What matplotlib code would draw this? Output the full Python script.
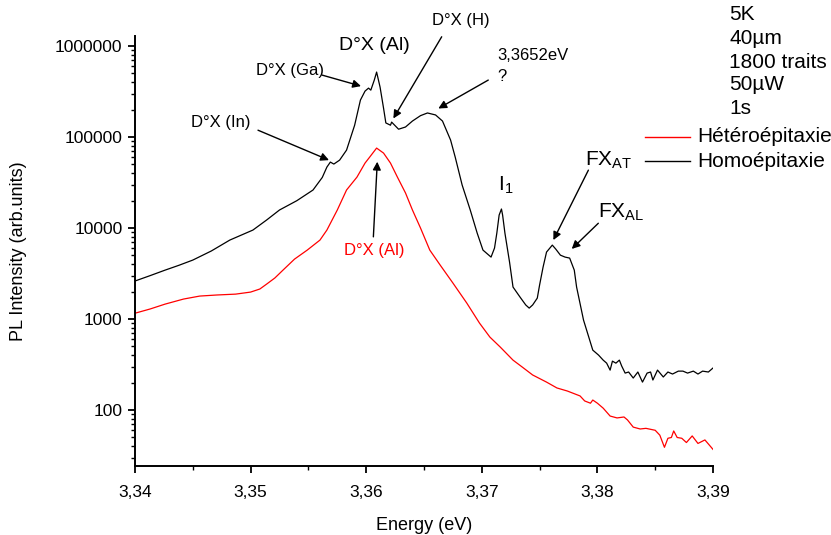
import numpy as np
import matplotlib
matplotlib.use("Agg")
import matplotlib.pyplot as plt
from matplotlib.ticker import FixedLocator, LogLocator, NullFormatter

plt.rcParams['font.family'] = ['Liberation Sans', 'DejaVu Sans']

# Homoépitaxie (black) : energy (eV), intensity (arb. units)
homo_E = [3.3400, 3.3413, 3.3426, 3.3438, 3.3450, 3.3466, 3.3482, 3.3502, 3.3514, 3.3525,
          3.3540, 3.3554, 3.3562, 3.3566, 3.3569, 3.3572,
          3.3577, 3.3583, 3.3590, 3.3595, 3.3599, 3.3602, 3.3604, 3.3607, 3.3609, 3.3612,
          3.3615, 3.3617, 3.3621, 3.3622, 3.3628, 3.3634, 3.3640, 3.3647, 3.3653, 3.3660,
          3.3666, 3.3673, 3.3677, 3.3683, 3.3690, 3.3696, 3.3701, 3.3708, 3.3711, 3.3713,
          3.3715, 3.3717, 3.3718, 3.3720, 3.3724, 3.3727, 3.3733, 3.3738, 3.3741, 3.3744,
          3.3748, 3.3750, 3.3753, 3.3756, 3.3761, 3.3764, 3.3768, 3.3772, 3.3776, 3.3780,
          3.3782, 3.3788, 3.3792, 3.3796, 3.3801, 3.3805, 3.3808, 3.3811, 3.3813, 3.3816,
          3.3819, 3.3821, 3.3824, 3.3827, 3.3831, 3.3835, 3.3839, 3.3843, 3.3846, 3.3848,
          3.3852, 3.3857, 3.3861, 3.3865, 3.3870, 3.3874, 3.3878, 3.3883, 3.3887, 3.3891,
          3.3896, 3.3900]
homo_I = [2620, 3000, 3450, 3900, 4450, 5600, 7380, 9510, 12300, 15800,
          20000, 26200, 36000, 46800, 53100, 50500,
          55800, 71900, 135000, 255000, 320000, 345000, 328000, 423000, 518000, 354000,
          208000, 143000, 135000, 146000, 122000, 129000, 150000, 172000, 184000, 175000,
          150000, 92700, 60200, 29700, 15800, 8810, 5730, 4800, 6030, 8810,
          13900, 16200, 13900, 8810, 4230, 2250, 1750, 1430, 1320, 1430,
          1700, 2370, 3720, 5450, 6500, 5870, 5040, 4800, 4680, 3450,
          2250, 975, 667, 456, 402, 354, 328, 275, 345, 328,
          354, 305, 255, 262, 225, 262, 203, 255, 262, 214,
          275, 231, 262, 249, 268, 268, 255, 268, 249, 268,
          262, 290]

# Hétéroépitaxie (red)
hetero_E = [3.3400, 3.3413, 3.3426, 3.3442, 3.3456, 3.3471, 3.3487, 3.3500, 3.3508, 3.3514,
            3.3521, 3.3528, 3.3538, 3.3549, 3.3560, 3.3566, 3.3575, 3.3583, 3.3592, 3.3599,
            3.3603, 3.3609, 3.3615, 3.3621, 3.3627, 3.3634, 3.3640, 3.3647, 3.3655, 3.3664,
            3.3675, 3.3687, 3.3698, 3.3707, 3.3716, 3.3727, 3.3735, 3.3744, 3.3756, 3.3765,
            3.3774, 3.3785, 3.3789, 3.3794, 3.3796, 3.3800, 3.3805, 3.3811, 3.3817, 3.3823,
            3.3826, 3.3831, 3.3837, 3.3842, 3.3850, 3.3854, 3.3858, 3.3861, 3.3864, 3.3866,
            3.3869, 3.3873, 3.3877, 3.3882, 3.3887, 3.3893, 3.3897, 3.3900]
hetero_I = [1160, 1290, 1460, 1660, 1790, 1840, 1880, 1980, 2140, 2430,
            2830, 3450, 4560, 5730, 7380, 9510, 15800, 26200, 36300, 51800,
            60200, 75700, 66700, 51800, 36300, 24300, 15800, 10000, 5730, 3920,
            2490, 1500, 904, 634, 492, 354, 297, 243, 203, 175,
            162, 143, 126, 119, 129, 119, 105, 86, 82, 84,
            78, 65, 62, 63, 60, 53, 39, 49, 50, 59,
            50, 49, 44, 52, 43, 47, 41, 37]

x_ticks = [3.34, 3.35, 3.36, 3.37, 3.38, 3.39]
x_tick_labels = ["3,34", "3,35", "3,36", "3,37", "3,38", "3,39"]
y_ticks = [100, 1000, 10000, 100000, 1000000]
y_tick_labels = ["100", "1000", "10000", "100000", "1000000"]

W, H = 831, 535
fig = plt.figure(figsize=(W / 100, H / 100), dpi=100)
L, R, T, B = 135, 713, 36, 466
ax = fig.add_axes([L / W, 1 - B / H, (R - L) / W, (B - T) / H])

ax.plot(hetero_E, hetero_I, color='#ff0000', lw=0.9)
ax.plot(homo_E, homo_I, color='black', lw=0.9)

ax.set_yscale('log')
ax.set_xlim(3.34, 3.39)
ax.set_ylim(24.3, 1.29e6)

ax.spines['top'].set_visible(False)
ax.spines['right'].set_visible(False)
for s in ('left', 'bottom'):
    ax.spines[s].set_linewidth(1.4)

ax.set_xticks(x_ticks)
ax.set_xticklabels(x_tick_labels)
ax.xaxis.set_minor_locator(FixedLocator([3.345, 3.355, 3.365, 3.375, 3.385]))
ax.set_yticks(y_ticks)
ax.set_yticklabels(y_tick_labels)
ax.yaxis.set_minor_locator(LogLocator(base=10, subs=np.arange(2, 10)))
ax.yaxis.set_minor_formatter(NullFormatter())
ax.tick_params(which='major', direction='out', length=5, width=1.3, labelsize=12.5)
ax.tick_params(axis='x', which='major', pad=9)
ax.tick_params(axis='y', which='major', pad=4)
ax.tick_params(which='minor', direction='out', length=3, width=1.0)

ax.set_xlabel("Energy (eV)", fontsize=13, labelpad=12)
ax.set_ylabel("PL Intensity (arb.units)", fontsize=13, labelpad=20)

arrow = dict(arrowstyle='-|>', color='black', lw=1.0, mutation_scale=12, shrinkA=0, shrinkB=0)

# Annotations
ax.text(3.34740, 144000, "D°X (In)", fontsize=12, ha='center', va='center')
ax.annotate('', xy=(3.35678, 55800), xytext=(3.35064, 119000), arrowprops=arrow, annotation_clip=False)

ax.text(3.35341, 545000, "D°X (Ga)", fontsize=12, ha='center', va='center')
ax.annotate('', xy=(3.35955, 363000), xytext=(3.35618, 480000), arrowprops=arrow, annotation_clip=False)

ax.text(3.36072, 1.01e6, "D°X (Al)", fontsize=14, ha='center', va='center')

ax.text(3.36820, 1.93e6, "D°X (H)", fontsize=12, ha='center', va='center')
ax.annotate('', xy=(3.36235, 160000), xytext=(3.36653, 1.265e6), arrowprops=arrow, annotation_clip=False)

ax.text(3.37131, 796000, "3,3652eV", fontsize=12, ha='left', va='center')
ax.text(3.37131, 468000, "?", fontsize=12, ha='left', va='center')
ax.annotate('', xy=(3.36624, 206000), xytext=(3.37056, 423000), arrowprops=arrow, annotation_clip=False)

ax.text(3.37140, 29700, r"I$_{\mathregular{1}}$", fontsize=15, ha='left', va='center')

ax.text(3.37893, 55800, r"FX$_{\mathregular{AT}}$", fontsize=15, ha='left', va='center')
ax.annotate('', xy=(3.37619, 7380), xytext=(3.37922, 43300), arrowprops=arrow, annotation_clip=False)

ax.text(3.38005, 15000, r"FX$_{\mathregular{AL}}$", fontsize=15, ha='left', va='center')
ax.annotate('', xy=(3.37778, 5900), xytext=(3.38008, 11300), arrowprops=arrow, annotation_clip=False)

ax.text(3.36072, 5730, "D°X (Al)", fontsize=12, ha='center', va='center', color='#ff0000')
ax.annotate('', xy=(3.36096, 53600), xytext=(3.36062, 8010), arrowprops=arrow, annotation_clip=False)

# Conditions block (figure pixels)
info = ["5K", "40µm", "1800 traits", "50µW", "1s"]
info_y = [15, 38, 62, 85, 108]
for t, yy in zip(info, info_y):
    fig.text(729 / W, 1 - yy / H, t, fontsize=15, ha='left', va='center')

# Legend drawn manually
leg_labels = ["Hétéroépitaxie", "Homoépitaxie"]
leg_colors = ['#ff0000', 'black']
leg_y = [137, 161]
for lab, c, yy in zip(leg_labels, leg_colors, leg_y):
    fig.add_artist(plt.Line2D([645 / W, 690 / W], [1 - yy / H, 1 - yy / H], color=c, lw=1.0))
    fig.text(697 / W, 1 - yy / H, lab, fontsize=15, ha='left', va='center')

fig.savefig("out.png", dpi=100)
